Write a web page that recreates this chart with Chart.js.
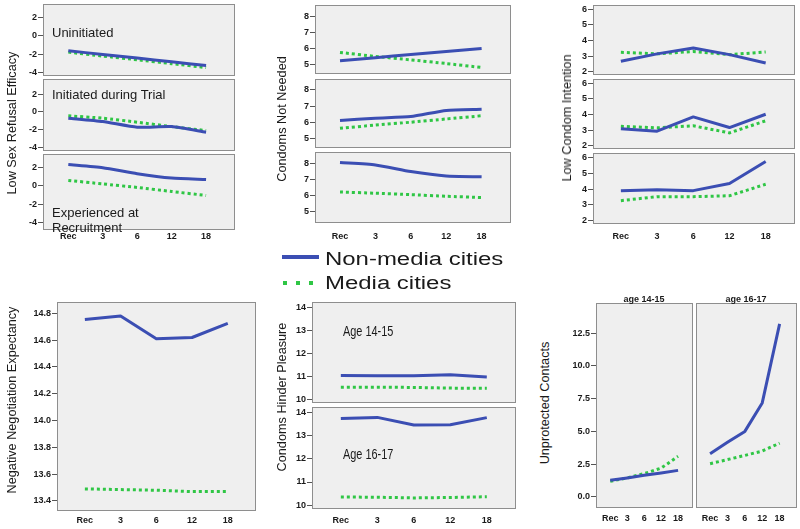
<!DOCTYPE html>
<html><head><meta charset="utf-8">
<script src="https://cdn.jsdelivr.net/npm/chart.js@4.4.1/dist/chart.umd.min.js"></script>
<style>
html,body{margin:0;padding:0;background:#fff}
body{position:relative;width:800px;height:529px;overflow:hidden;font-family:'Liberation Sans',Arial,sans-serif}
canvas{position:absolute}
.lbl{position:absolute;white-space:nowrap;color:#1a1a1a;font-size:13px;line-height:13px;transform:translateY(-50%);transform-origin:left center}
.vt{position:absolute;white-space:nowrap;color:#1a1a1a;font-size:12.7px;line-height:14px;transform:translate(-50%,-50%) rotate(-90deg)}
.hd{position:absolute;white-space:nowrap;color:#1a1a1a;font-family:'Liberation Sans',Arial,sans-serif;font-weight:bold;font-size:9px;line-height:10px;transform:translate(-50%,-50%)}
.lg{position:absolute;white-space:nowrap;color:#1a1a1a;font-size:18px;line-height:18px;transform:scaleX(1.33);transform-origin:left top}
</style></head><body>
<script>
// ---------- data ----------
const categories = ['Rec', '3', '6', '12', '18'];
const seriesNames = ['Non-media cities', 'Media cities'];

// Low Sex Refusal Efficacy
const lsreTicks = [-4, -2, 0, 2];
const lsreUninitNonMedia = [-1.63, -2.02, -2.42, -2.82, -3.23];
const lsreUninitMedia    = [-1.77, -2.2, -2.6, -3.02, -3.45];
const lsreInitNonMedia   = [-0.72, -1.1, -1.74, -1.67, -2.3];
const lsreInitMedia      = [-0.45, -0.72, -1.17, -1.67, -2.12];
const lsreExpNonMedia    = [2.3, 1.96, 1.3, 0.83, 0.68];
const lsreExpMedia       = [0.58, 0.2, -0.18, -0.62, -1.05];

// Condoms Not Needed
const cnnTicks = [5, 6, 7, 8];
const cnnUninitNonMedia = [5.23, 5.42, 5.62, 5.81, 6.0];
const cnnUninitMedia    = [5.75, 5.5, 5.28, 5.05, 4.8];
const cnnInitNonMedia   = [6.1, 6.25, 6.35, 6.73, 6.8];
const cnnInitMedia      = [5.62, 5.82, 6.0, 6.2, 6.4];
const cnnExpNonMedia    = [8.05, 7.9, 7.48, 7.2, 7.15];
const cnnExpMedia       = [6.2, 6.12, 6.03, 5.93, 5.85];

// Low Condom Intention
const lciTicks = [2, 3, 4, 5, 6];
const lciUninitNonMedia = [2.68, 3.15, 3.53, 3.1, 2.57];
const lciUninitMedia    = [3.25, 3.15, 3.3, 3.1, 3.27];
const lciInitNonMedia   = [3.1, 2.94, 3.85, 3.17, 4.02];
const lciInitMedia      = [3.25, 3.15, 3.28, 2.83, 3.6];
const lciExpNonMedia    = [3.9, 3.95, 3.9, 4.35, 5.73];
const lciExpMedia       = [3.27, 3.52, 3.52, 3.58, 4.3];

// Negative Negotiation Expectancy
const nneTicks = [13.4, 13.6, 13.8, 14.0, 14.2, 14.4, 14.6, 14.8];
const nneNonMedia = [14.755, 14.78, 14.61, 14.62, 14.725];
const nneMedia    = [13.49, 13.485, 13.48, 13.47, 13.47];

// Condoms Hinder Pleasure
const chpTicks = [10, 11, 12, 13, 14];
const chpAge1415NonMedia = [11.04, 11.03, 11.03, 11.07, 10.98];
const chpAge1415Media    = [10.53, 10.53, 10.52, 10.49, 10.48];
const chpAge1617NonMedia = [13.75, 13.8, 13.47, 13.48, 13.79];
const chpAge1617Media    = [10.35, 10.34, 10.31, 10.33, 10.36];

// Unprotected Contacts
const ucTicks = [0, 2.5, 5, 7.5, 10, 12.5];
const ucAge1415NonMedia = [1.27, 1.45, 1.65, 1.83, 2.03];
const ucAge1415Media    = [1.2, 1.45, 1.78, 2.2, 3.1];
const ucAge1617NonMedia = [3.3, 4.17, 5.0, 7.17, 13.2];
const ucAge1617Media    = [2.54, 2.85, 3.17, 3.5, 4.1];

// ---------- drawing ----------
const BLUE = '#3b4eb3', GREEN = '#2fc645';
const FONT_TICK = {family: "'Liberation Sans',Arial,sans-serif", weight: 'bold', size: 9};

const panelBox = {
  id: 'panelBox',
  beforeDraw(chart) {
    const a = chart.chartArea, ctx = chart.ctx;
    ctx.save(); ctx.fillStyle = '#efefef';
    ctx.fillRect(a.left, a.top, a.right - a.left, a.bottom - a.top); ctx.restore();
  },
  afterDraw(chart) {
    const a = chart.chartArea, ctx = chart.ctx;
    ctx.save(); ctx.strokeStyle = '#8e8e8e'; ctx.lineWidth = 1;
    ctx.strokeRect(a.left + 0.5, a.top + 0.5, a.right - a.left - 1, a.bottom - a.top - 1); ctx.restore();
  }
};

function zeroPad(s) { s.paddingLeft = 0; s.paddingRight = 0; s.paddingTop = 0; s.paddingBottom = 0; }

function panel(o) {
  const yw = o.yTicks ? o.yw : 0;
  const xh = o.showX ? o.xPad + 13 : 0;
  const padT = 2, padR = 2, padB = o.showX ? 0 : 2;
  const W = o.r - o.l + yw + padR, H = o.b - o.t + padT + xh + padB;
  const c = document.createElement('canvas');
  c.width = W; c.height = H;
  Object.assign(c.style, {left: (o.l - yw) + 'px', top: (o.t - padT) + 'px', width: W + 'px', height: H + 'px'});
  document.body.appendChild(c);
  const pts = arr => categories.map((_, i) => ({x: i, y: arr[i]}));
  new Chart(c, {
    type: 'line',
    data: {datasets: [
      {label: seriesNames[0], data: pts(o.nonMedia), borderColor: BLUE, borderWidth: 3, pointRadius: 0, tension: o.tension || 0, borderJoinStyle: 'round'},
      {label: seriesNames[1], data: pts(o.media), borderColor: GREEN, borderWidth: 3, borderDash: [3, 3], pointRadius: 0, tension: o.tension || 0}
    ]},
    options: {
      responsive: false, animation: false, devicePixelRatio: 1,
      layout: {autoPadding: false, padding: {top: padT, right: padR, bottom: padB, left: 0}},
      plugins: {legend: {display: false}, tooltip: {enabled: false}},
      scales: {
        x: {type: 'linear', min: o.xMin, max: o.xMax, display: !!o.showX,
            grid: {display: false, drawTicks: false, tickLength: 0}, border: {display: false},
            afterBuildTicks: s => { s.ticks = categories.map((_, i) => ({value: i})); },
            afterFit: s => { s.height = xh; zeroPad(s); },
            ticks: {padding: o.xPad || 0, autoSkip: false, maxRotation: 0, color: '#1a1a1a', font: FONT_TICK,
                    callback: v => categories[v]}},
        y: {type: 'linear', min: o.yMin, max: o.yMax, display: !!o.yTicks,
            grid: {drawOnChartArea: false, drawTicks: true, tickLength: 5, color: '#555'}, border: {display: false},
            afterBuildTicks: s => { s.ticks = (o.yTicks || []).map(v => ({value: v})); },
            afterFit: s => { s.width = yw; zeroPad(s); },
            ticks: {padding: 1, autoSkip: false, color: '#1a1a1a', font: FONT_TICK,
                    callback: v => o.dec ? Number(v).toFixed(o.dec) : String(v)}}
      }
    },
    plugins: [panelBox]
  });
}

// Top-left: Low Sex Refusal Efficacy
const tl = {l: 43, r: 235, yw: 25, xMin: -0.735, xMax: 4.84, yTicks: lsreTicks, tension: 0.2};
panel({...tl, t: 4, b: 76, yMin: -4.36, yMax: 3.45, nonMedia: lsreUninitNonMedia, media: lsreUninitMedia});
panel({...tl, t: 79, b: 151, yMin: -4.42, yMax: 3.7, nonMedia: lsreInitNonMedia, media: lsreInitMedia});
panel({...tl, t: 154, b: 230, yMin: -4.79, yMax: 3.44, nonMedia: lsreExpNonMedia, media: lsreExpMedia, showX: true, xPad: 1});

// Top-middle: Condoms Not Needed
const tm = {l: 315, r: 511, yw: 20, xMin: -0.706, xMax: 4.83, yTicks: cnnTicks, tension: 0.2};
panel({...tm, t: 5, b: 74, yMin: 4.39, yMax: 8.74, nonMedia: cnnUninitNonMedia, media: cnnUninitMedia});
panel({...tm, t: 79, b: 148, yMin: 4.4, yMax: 8.68, nonMedia: cnnInitNonMedia, media: cnnInitMedia});
panel({...tm, t: 152, b: 223, yMin: 4.25, yMax: 8.71, nonMedia: cnnExpNonMedia, media: cnnExpMedia, showX: true, xPad: 8});

// Top-right: Low Condom Intention
const tr = {l: 593, r: 795, yw: 20, xMin: -0.77, xMax: 4.81, yTicks: lciTicks, yMin: 1.8, yMax: 6.27};
panel({...tr, t: 5, b: 75, nonMedia: lciUninitNonMedia, media: lciUninitMedia});
panel({...tr, t: 79, b: 149, nonMedia: lciInitNonMedia, media: lciInitMedia});
panel({...tr, t: 153, b: 224, nonMedia: lciExpNonMedia, media: lciExpMedia, showX: true, xPad: 7});

// Bottom-left: Negative Negotiation Expectancy
panel({l: 57, r: 256, t: 302, b: 511, yw: 30, xMin: -0.78, xMax: 4.79, yTicks: nneTicks, dec: 1,
       yMin: 13.325, yMax: 14.885, nonMedia: nneNonMedia, media: nneMedia, showX: true, xPad: 4});

// Bottom-middle: Condoms Hinder Pleasure
const bm = {l: 312, r: 516, yw: 25, xMin: -0.79, xMax: 4.8, yTicks: chpTicks};
panel({...bm, t: 302, b: 403, yMin: 9.84, yMax: 14.25, nonMedia: chpAge1415NonMedia, media: chpAge1415Media});
panel({...bm, t: 407, b: 509, yMin: 9.83, yMax: 14.25, nonMedia: chpAge1617NonMedia, media: chpAge1617Media, showX: true, xPad: 6});

// Bottom-right: Unprotected Contacts
panel({l: 596, r: 693, t: 303, b: 508, yw: 30, xMin: -0.84, xMax: 4.88, yTicks: ucTicks, dec: 1,
       yMin: -0.84, yMax: 14.79, nonMedia: ucAge1415NonMedia, media: ucAge1415Media, showX: true, xPad: 5});
panel({l: 696, r: 797, t: 303, b: 508, xMin: -0.81, xMax: 5.0,
       yMin: -0.84, yMax: 14.79, nonMedia: ucAge1617NonMedia, media: ucAge1617Media, showX: true, xPad: 5});

// ---------- text ----------
function addDiv(cls, text, css) {
  const d = document.createElement('div'); d.className = cls; d.textContent = text;
  Object.assign(d.style, css); document.body.appendChild(d); return d;
}
// axis titles
addDiv('vt', 'Low Sex Refusal Efficacy', {left: '12px', top: '123px'});
addDiv('vt', 'Condoms Not Needed', {left: '282px', top: '119px'});
addDiv('vt', 'Low Condom Intention', {left: '567px', top: '118px'});
addDiv('vt', 'Negative Negotiation Expectancy', {left: '12px', top: '400px'});
addDiv('vt', 'Condoms Hinder Pleasure', {left: '282px', top: '397px'});
addDiv('vt', 'Unprotected Contacts', {left: '545px', top: '403px'});
// panel labels
addDiv('lbl', 'Uninitiated', {left: '52px', top: '32px'});
addDiv('lbl', 'Initiated during Trial', {left: '52px', top: '94px'});
addDiv('lbl', 'Experienced at', {left: '52px', top: '212px'});
addDiv('lbl', 'Recruitment', {left: '52px', top: '227px'});
addDiv('lbl', 'Age 14-15', {left: '343px', top: '331px', fontSize: '14px', lineHeight: '14px', transform: 'translateY(-50%) scaleX(0.78)'});
addDiv('lbl', 'Age 16-17', {left: '343px', top: '454px', fontSize: '14px', lineHeight: '14px', transform: 'translateY(-50%) scaleX(0.78)'});
addDiv('hd', 'age 14-15', {left: '644px', top: '299px'});
addDiv('hd', 'age 16-17', {left: '746px', top: '299px'});
// legend
const ln = document.createElement('div');
Object.assign(ln.style, {position: 'absolute', left: '282px', top: '255px', width: '37px', height: '4px', background: BLUE});
document.body.appendChild(ln);
[283, 296, 309].forEach(x => {
  const d = document.createElement('div');
  Object.assign(d.style, {position: 'absolute', left: x + 'px', top: '281px', width: '4px', height: '4px', background: GREEN});
  document.body.appendChild(d);
});
addDiv('lg', seriesNames[0], {left: '325px', top: '250px'});
addDiv('lg', seriesNames[1], {left: '325px', top: '274px'});
</script>
</body></html>
